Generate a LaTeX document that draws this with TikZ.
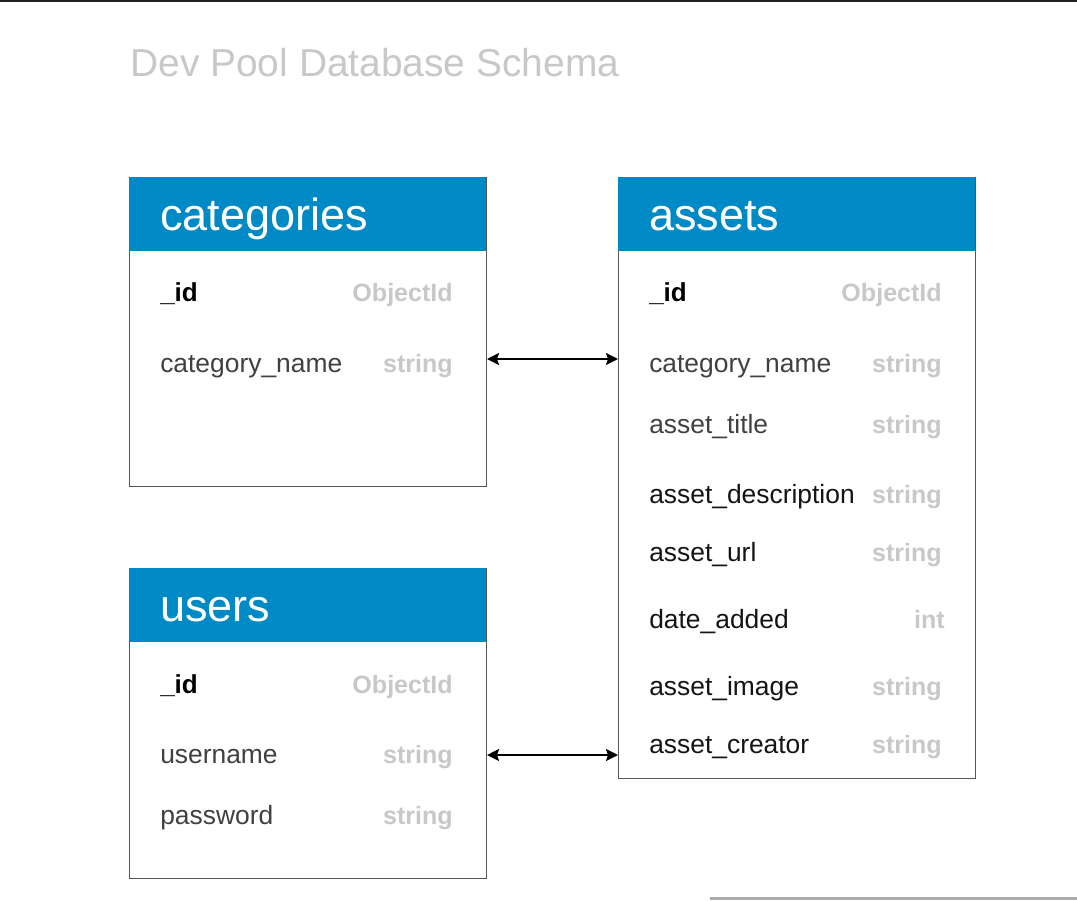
\documentclass[tikz,border=0pt]{standalone}
\usepackage{fontspec}
\setmainfont{Liberation Sans}
\usetikzlibrary{arrows.meta}
\definecolor{hdr}{RGB}{0,138,197}
\definecolor{typec}{RGB}{200,200,200}
\definecolor{fldg}{RGB}{64,64,64}
\definecolor{fldk}{RGB}{20,20,20}
\definecolor{boxc}{RGB}{85,85,85}
\definecolor{titlec}{RGB}{200,200,200}
\begin{document}
\begin{tikzpicture}[x=0.75pt,y=-0.75pt,
  tbl/.style={draw=boxc,line width=0.75pt,anchor=north west,minimum width=267.75pt,inner sep=0pt},
  hdrbox/.style={fill=hdr,anchor=north west,minimum width=267.75pt,minimum height=55.5pt,inner sep=0pt},
  hdrtxt/.style={text=white,anchor=base west,inner sep=0pt,font=\fontsize{33.8}{36}\selectfont},
  fname/.style={text=fldg,anchor=mid west,inner sep=0pt,font=\fontsize{19.8}{22}\selectfont},
  fnamek/.style={fname,text=fldk},
  fid/.style={text=black,anchor=mid west,inner sep=0pt,font=\fontsize{19.5}{22}\selectfont\bfseries},
  ftype/.style={text=typec,anchor=mid east,inner sep=0pt,font=\fontsize{18.8}{22}\selectfont\bfseries},
  arr/.style={line width=1.5pt,{Stealth[length=9pt,width=9pt,inset=1.5pt]}-{Stealth[length=9pt,width=9pt,inset=1.5pt]}}
]
\useasboundingbox (0,0) rectangle (1077,900);
\fill[white] (0,0) rectangle (1077,900);
\draw[line width=1.5pt,color={rgb,255:red,34;green,34;blue,34}] (0,1) -- (1077,1);
\draw[line width=2.25pt,color={rgb,255:red,170;green,170;blue,170}] (710,898) -- (1077,898);

\node[text=titlec,anchor=base west,inner sep=0pt,font=\fontsize{29.2}{32}\selectfont] (title) at (130,76) {Dev Pool Database Schema};

% categories
\node[tbl,minimum height=231.75pt] (cat) at (129,177) {};
\node[hdrbox] (cath) at (129,177) {};
\node[hdrtxt] (catt) at (160,230) {categories};
\node[fid] (c1) at (160,298) {\_id};
\node[ftype] (c1t) at (453,298) {ObjectId};
\node[fname] (c2) at (160,369) {category\_name};
\node[ftype] (c2t) at (453,369) {string};

% users
\node[tbl,minimum height=232.5pt] (usr) at (129,568) {};
\node[hdrbox] (usrh) at (129,568) {};
\node[hdrtxt] (usrt) at (160,621) {users};
\node[fid] (u1) at (160,690) {\_id};
\node[ftype] (u1t) at (453,690) {ObjectId};
\node[fname] (u2) at (160,760) {username};
\node[ftype] (u2t) at (453,760) {string};
\node[fname] (u3) at (160,821) {password};
\node[ftype] (u3t) at (453,821) {string};

% assets
\node[tbl,minimum height=450.75pt] (ast) at (618,177) {};
\node[hdrbox] (asth) at (618,177) {};
\node[hdrtxt] (astt) at (649,230) {assets};
\node[fid] (a1) at (649,298) {\_id};
\node[ftype] (a1t) at (942,298) {ObjectId};
\node[fname] (a2) at (649,369) {category\_name};
\node[ftype] (a2t) at (942,369) {string};
\node[fname] (a3) at (649,430) {asset\_title};
\node[ftype] (a3t) at (942,430) {string};
\node[fnamek] (a4) at (649,500) {asset\_description};
\node[ftype] (a4t) at (942,500) {string};
\node[fnamek] (a5) at (649,558) {asset\_url};
\node[ftype] (a5t) at (942,558) {string};
\node[fnamek] (a6) at (649,625) {date\_added};
\node[ftype] (a6t) at (945,625) {int};
\node[fnamek] (a7) at (649,692) {asset\_image};
\node[ftype] (a7t) at (942,692) {string};
\node[fnamek] (a8) at (649,750) {asset\_creator};
\node[ftype] (a8t) at (942,750) {string};

\coordinate (r1) at (0,359);
\coordinate (r2) at (0,755);
\draw[arr] (cat.east |- r1) -- (ast.west |- r1);
\draw[arr] (usr.east |- r2) -- (ast.west |- r2);
\end{tikzpicture}
\end{document}
